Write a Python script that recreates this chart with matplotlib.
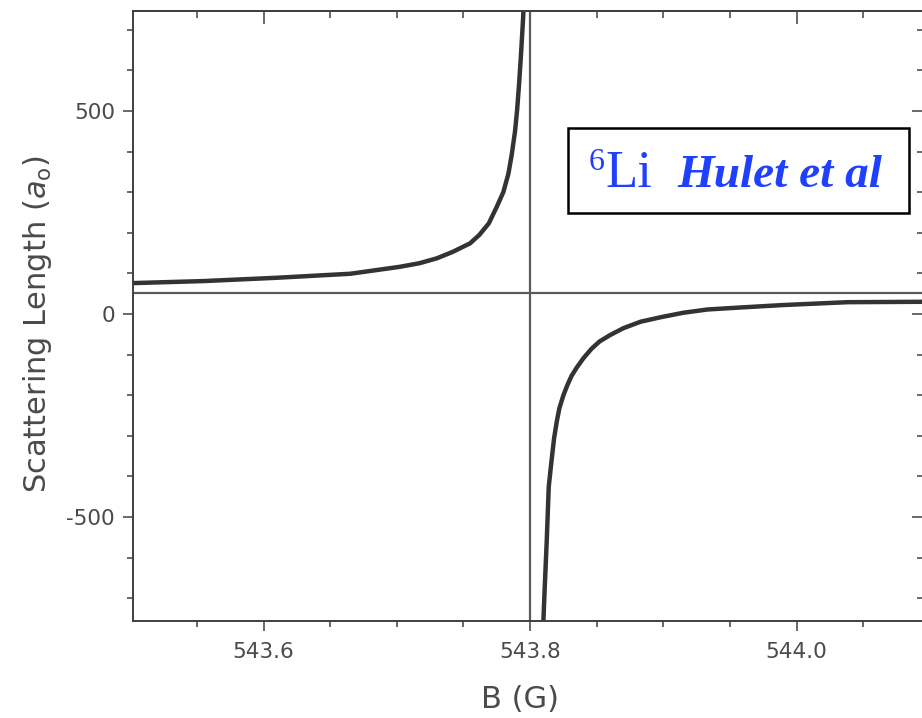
import matplotlib.pyplot as plt
from matplotlib.ticker import MultipleLocator, FormatStrFormatter
from matplotlib.patches import Rectangle

plt.rcParams['font.family'] = 'DejaVu Sans'
plt.rcParams['axes.unicode_minus'] = False
plt.rcParams['mathtext.fontset'] = 'dejavusans'

# field (G) and scattering length (a0)
b_below = [543.502, 543.555, 543.609, 543.665, 543.702, 543.717, 543.730,
           543.742, 543.755, 543.762, 543.769, 543.775, 543.7799, 543.7837,
           543.7862, 543.7887, 543.7902, 543.7917, 543.7932, 543.7947,
           543.7957]
a_below = [76, 81, 89, 99, 116, 125, 137, 153, 174, 195, 223, 264, 300, 345,
           392, 450, 500, 565, 640, 725, 800]

b_above = [543.8095, 543.810, 543.811, 543.8125, 543.814, 543.816, 543.818,
           543.820, 543.822, 543.825, 543.828, 543.831, 543.835, 543.840,
           543.846, 543.852, 543.860, 543.870, 543.883, 543.898, 543.915,
           543.933, 543.958, 543.990, 544.038, 544.095]
a_above = [-800, -754, -672, -557, -425, -364, -306, -265, -232, -200, -175,
           -153, -132, -109, -86, -68, -52, -35, -19, -8, 3, 11, 16, 22, 29, 30]

b_res = 543.8
a_line = 52

x_ticks = [543.6, 543.8, 544.0]
y_ticks = [-500, 0, 500]

fig = plt.figure(figsize=(9.22, 7.18), dpi=100)
ax = fig.add_axes([133 / 922, 97 / 718, 789.8 / 922, 610 / 718])

ax.axvline(b_res, color='#5a5a5a', lw=1.6, zorder=1)
ax.axhline(a_line, color='#5a5a5a', lw=1.6, zorder=1)
ax.plot(b_below, a_below, color='#333333', lw=3.2, zorder=2)
ax.plot(b_above, a_above, color='#333333', lw=3.2, zorder=2)

ax.set_xlim(543.502, 544.0947)
ax.set_ylim(-756, 746)

spine_col = '#404040'
for s in ax.spines.values():
    s.set_color(spine_col)
    s.set_linewidth(1.4)

ax.set_xticks(x_ticks)
ax.set_yticks(y_ticks)
ax.xaxis.set_minor_locator(MultipleLocator(0.05))
ax.yaxis.set_minor_locator(MultipleLocator(100))
ax.xaxis.set_major_formatter(FormatStrFormatter('%.1f'))
ax.tick_params(which='major', length=7.5, width=1.1, color=spine_col,
               labelsize=15.5, labelcolor='#4a4a4a', direction='out')
ax.tick_params(which='minor', length=4, width=1.1, color=spine_col,
               direction='out')
ax.tick_params(axis='x', which='major', pad=7.5)
ax.tick_params(axis='y', which='major', pad=5.5)

# mirrored ticks pointing inward on top and right
top = ax.secondary_xaxis('top')
top.set_xticks(x_ticks)
top.xaxis.set_minor_locator(MultipleLocator(0.05))
top.tick_params(which='major', direction='in', length=9, width=1.1,
                color=spine_col, labeltop=False)
top.tick_params(which='minor', direction='in', length=5, width=1.1,
                color=spine_col)
top.spines['top'].set_color(spine_col)
top.spines['top'].set_linewidth(1.4)

right = ax.secondary_yaxis('right')
right.set_yticks(y_ticks)
right.yaxis.set_minor_locator(MultipleLocator(100))
right.tick_params(which='major', direction='in', length=8, width=1.1,
                  color=spine_col, labelright=False)
right.tick_params(which='minor', direction='in', length=4, width=1.1,
                  color=spine_col)

fig.text(37 / 922, 1 - 324 / 718, r'Scattering Length ($\mathit{a}_\mathregular{o}$)',
         rotation=90, ha='center', va='center', fontsize=22, color='#4a4a4a')
fig.text(520 / 922, 1 - 699 / 718, 'B (G)', ha='center', va='center',
         fontsize=22, color='#4a4a4a')

# label box
fig.patches.append(Rectangle((568 / 922, 1 - 213 / 718), 341 / 922, 85 / 718,
                             transform=fig.transFigure, fill=True,
                             facecolor='white', edgecolor='black', lw=1.8))
blue = '#2040ff'
serif = ['Liberation Serif', 'DejaVu Serif']
fig.text(589 / 922, 1 - 170 / 718, '6', family=serif, fontsize=23,
         color=blue, va='baseline', ha='left')
fig.text(605 / 922, 1 - 187 / 718, 'Li', family=serif, fontsize=38,
         color=blue, va='baseline', ha='left')
fig.text(677 / 922, 1 - 187 / 718, 'Hulet et al', family=serif, fontsize=34,
         color=blue, va='baseline', ha='left', weight='bold', style='italic')

fig.savefig('out.png', dpi=100)
